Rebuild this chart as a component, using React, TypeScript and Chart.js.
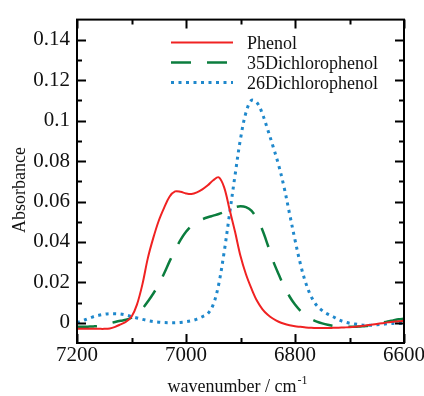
import React, { useEffect, useRef } from "react";
import { Chart, registerables } from "chart.js";

Chart.register(...registerables);

const wavenumbers = [
  7200, 7190, 7180, 7170, 7160, 7150, 7140, 7130, 7120, 7110,
  7100, 7090, 7080, 7070, 7060, 7050, 7040, 7030, 7020, 7010,
  7000, 6990, 6980, 6970, 6960, 6950, 6940, 6930, 6920, 6910,
  6900, 6890, 6880, 6870, 6860, 6850, 6840, 6830, 6820, 6810,
  6800, 6790, 6780, 6770, 6760, 6750, 6740, 6730, 6720, 6710,
  6700, 6690, 6680, 6670, 6660, 6650, 6640, 6630, 6620, 6610, 6600,
];

const phenol = [
  -0.003, -0.003, -0.003, -0.003, -0.003, -0.003, -0.0028, -0.002, -0.0008, 0.0005,
  0.003, 0.009, 0.019, 0.032, 0.042, 0.0505, 0.057, 0.0625, 0.065, 0.0648,
  0.064, 0.0637, 0.0645, 0.066, 0.068, 0.0705, 0.072, 0.067, 0.056, 0.045,
  0.033, 0.024, 0.017, 0.011, 0.0068, 0.004, 0.002, 0.0005, -0.0005, -0.0012,
  -0.0017, -0.002, -0.0023, -0.0025, -0.0026, -0.0026, -0.0026, -0.0025, -0.0024, -0.0023,
  -0.0022, -0.002, -0.0017, -0.0013, -0.001, -0.0006, -0.0002, 0.0002, 0.0005, 0.0008, 0.001,
];

const dichloro35 = [
  -0.002, -0.002, -0.0019, -0.0018, -0.0016, -0.001, -0.0003, 0.0004, 0.001, 0.0015,
  0.0025, 0.0045, 0.007, 0.0105, 0.0145, 0.019, 0.0245, 0.0305, 0.036, 0.041,
  0.045, 0.048, 0.05, 0.0512, 0.0522, 0.053, 0.0538, 0.0548, 0.056, 0.0572,
  0.0576, 0.0572, 0.0555, 0.0515, 0.046, 0.0385, 0.0305, 0.024, 0.018, 0.013,
  0.009, 0.0059, 0.0035, 0.0018, 0.0006, -0.0003, -0.001, -0.0015, -0.0018, -0.002,
  -0.002, -0.002, -0.0018, -0.0016, -0.0012, -0.0007, 0.0, 0.0007, 0.0012, 0.0017, 0.002,
];

const dichloro26 = [
  0.0, 0.001, 0.002, 0.003, 0.0037, 0.0042, 0.0045, 0.0045, 0.0043, 0.0038,
  0.0031, 0.0024, 0.0017, 0.0011, 0.0006, 0.0003, 0.0001, 0.0, 0.0, 0.0002,
  0.0005, 0.001, 0.0018, 0.003, 0.0045, 0.009, 0.019, 0.035, 0.054, 0.073,
  0.091, 0.104, 0.11, 0.109, 0.1035, 0.0955, 0.087, 0.078, 0.067, 0.054,
  0.041, 0.029, 0.0195, 0.0128, 0.0085, 0.006, 0.0043, 0.003, 0.0015, 0.0005,
  -0.0002, -0.0006, -0.001, -0.0012, -0.0012, -0.001, -0.0008, -0.0005, -0.0003, -0.0003, -0.0003,
];

const seriesNames = ["Phenol", "35Dichlorophenol", "26Dichlorophenol"];
const seriesColors = ["#f02222", "#0b7d3e", "#1f88cc"];

const xMajorTicks = [7200, 7000, 6800, 6600];
const xMinorTicks = [7100, 6900, 6700];
const yMajorTicks = [0, 0.02, 0.04, 0.06, 0.08, 0.1, 0.12, 0.14];
const yMinorTicks = [0.01, 0.03, 0.05, 0.07, 0.09, 0.11, 0.13];

const FONT = "'Liberation Serif', 'Times New Roman', serif";

export default function App() {
  const canvasRef = useRef<HTMLCanvasElement | null>(null);

  useEffect(() => {
    const canvas = canvasRef.current;
    if (!canvas) return;

    const dashes = [[], [20, 16], [3, 4.5]];
    const widths = [2, 2.5, 3];
    const allSeries = [phenol, dichloro35, dichloro26];

    const framePlugin = {
      id: "framePlugin",
      afterDraw(chart: any) {
        const ctx = chart.ctx;
        const area = chart.chartArea;
        const xs = chart.scales.x;
        const ys = chart.scales.y;
        ctx.save();
        ctx.strokeStyle = "#000";
        ctx.lineWidth = 2;
        ctx.setLineDash([]);
        ctx.strokeRect(area.left, area.top, area.right - area.left, area.bottom - area.top);

        const drawX = (v: number, len: number) => {
          const px = Math.round(xs.getPixelForValue(v)) + 0.5;
          ctx.beginPath();
          ctx.moveTo(px, area.bottom);
          ctx.lineTo(px, area.bottom - len);
          ctx.moveTo(px, area.top);
          ctx.lineTo(px, area.top + len);
          ctx.stroke();
        };
        const drawY = (v: number, len: number) => {
          const py = Math.round(ys.getPixelForValue(v)) + 0.5;
          ctx.beginPath();
          ctx.moveTo(area.left, py);
          ctx.lineTo(area.left + len, py);
          ctx.moveTo(area.right, py);
          ctx.lineTo(area.right - len, py);
          ctx.stroke();
        };
        ctx.lineWidth = 2;
        xMajorTicks.forEach((v) => drawX(v, 9));
        xMinorTicks.forEach((v) => drawX(v, 5));
        yMajorTicks.forEach((v) => drawY(v, 9));
        yMinorTicks.forEach((v) => drawY(v, 5));

        // legend
        const lx0 = 171;
        const lx1 = 233;
        const ly = [42.5, 62.5, 82.5];
        seriesNames.forEach((name, i) => {
          ctx.strokeStyle = seriesColors[i];
          ctx.lineWidth = widths[i];
          ctx.setLineDash(dashes[i]);
          ctx.lineCap = "butt";
          ctx.beginPath();
          ctx.moveTo(lx0, ly[i]);
          ctx.lineTo(lx1, ly[i]);
          ctx.stroke();
          ctx.setLineDash([]);
          ctx.fillStyle = "#111";
          ctx.font = `18px ${FONT}`;
          ctx.textAlign = "left";
          ctx.textBaseline = "alphabetic";
          ctx.fillText(name, 247, ly[i] + 6);
        });

        // x axis title with superscript
        ctx.fillStyle = "#111";
        ctx.font = `18px ${FONT}`;
        const mainText = "wavenumber / cm";
        const mainW = ctx.measureText(mainText).width;
        ctx.font = `12px ${FONT}`;
        const supText = "-1";
        const supW = ctx.measureText(supText).width;
        const startX = 237 - (mainW + supW) / 2;
        ctx.font = `18px ${FONT}`;
        ctx.textAlign = "left";
        ctx.fillText(mainText, startX, 392);
        ctx.font = `12px ${FONT}`;
        ctx.fillText(supText, startX + mainW + 1, 384);

        // y axis title
        ctx.translate(25, 190);
        ctx.rotate(-Math.PI / 2);
        ctx.font = `18px ${FONT}`;
        ctx.textAlign = "center";
        ctx.fillText("Absorbance", 0, 0);
        ctx.restore();
      },
    };

    const chart = new Chart(canvas, {
      type: "line",
      data: {
        datasets: allSeries.map((s, i) => ({
          label: seriesNames[i],
          data: wavenumbers.map((w, j) => ({ x: w, y: s[j] })),
          borderColor: seriesColors[i],
          borderWidth: widths[i],
          borderDash: dashes[i],
          pointRadius: 0,
          fill: false,
          tension: 0.35,
        })),
      },
      options: {
        responsive: false,
        animation: false,
        layout: { padding: { top: 15, right: 20, left: 0, bottom: 0 } },
        plugins: {
          legend: { display: false },
          tooltip: { enabled: false },
        },
        scales: {
          x: {
            type: "linear",
            reverse: true,
            min: 6600,
            max: 7200,
            grid: { display: false, drawTicks: false },
            border: { display: false },
            afterBuildTicks: (scale: any) => {
              scale.ticks = xMajorTicks.map((v) => ({ value: v }));
            },
            afterFit: (scale: any) => {
              scale.height = 53;
              scale.paddingLeft = 0;
              scale.paddingRight = 0;
            },
            ticks: {
              padding: 0,
              maxRotation: 0,
              autoSkip: false,
              color: "#111",
              font: { family: FONT, size: 21 },
              callback: (v: any) => String(v),
            },
          },
          y: {
            type: "linear",
            min: -0.01,
            max: 0.15,
            grid: { display: false, drawTicks: false },
            border: { display: false },
            afterBuildTicks: (scale: any) => {
              scale.ticks = yMajorTicks.map((v) => ({ value: v }));
            },
            afterFit: (scale: any) => {
              scale.width = 77;
            },
            ticks: {
              padding: 7,
              autoSkip: false,
              color: "#111",
              font: { family: FONT, size: 21 },
              callback: (v: any) => String(Number(Number(v).toFixed(2))),
            },
          },
        },
      },
      plugins: [framePlugin],
    } as any);

    return () => chart.destroy();
  }, []);

  return (
    <div style={{ position: "absolute", left: 0, top: 0, width: 424, height: 396, background: "#fff" }}>
      <canvas ref={canvasRef} width={424} height={396} style={{ display: "block" }} />
    </div>
  );
}
